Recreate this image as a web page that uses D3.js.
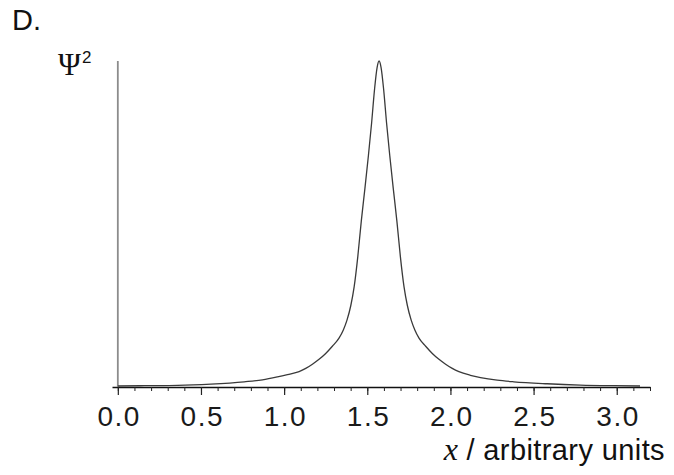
<!DOCTYPE html>
<html>
<head>
<meta charset="utf-8">
<script src="https://cdn.jsdelivr.net/npm/d3@7"></script>
<style>
  body { margin: 0; background: #fff; }
  svg { display: block; }
  .axis text { font-family: "Liberation Sans", Arial, sans-serif; fill: #1a1a1a; }
</style>
</head>
<body>
<div id="chart"></div>
<script>
// values (x in arbitrary units, psi^2 normalised to peak = 1)
var xVals = [0.00, 0.16, 0.36, 0.56, 0.76, 0.87, 0.96, 1.02, 1.09, 1.13, 1.17, 1.21, 1.25, 1.29, 1.33,
             1.356, 1.378, 1.401, 1.421, 1.443, 1.464, 1.486, 1.507, 1.526, 1.544, 1.559, 1.571,
             1.583, 1.598, 1.616, 1.635, 1.656, 1.678, 1.699, 1.721, 1.741, 1.764, 1.786, 1.811,
             1.851, 1.891, 1.931, 1.971, 2.011, 2.051, 2.12, 2.181, 2.281, 2.381, 2.581, 2.781,
             2.98, 3.14];
var psi2 = [0.003, 0.004, 0.005, 0.009, 0.016, 0.022, 0.031, 0.038, 0.047, 0.057, 0.07, 0.085, 0.103, 0.125, 0.15,
            0.175, 0.205, 0.25, 0.307, 0.40, 0.509, 0.61, 0.711, 0.81, 0.915, 0.98, 1.0,
            0.98, 0.915, 0.81, 0.711, 0.61, 0.509, 0.40, 0.307, 0.25, 0.205, 0.175, 0.15,
            0.125, 0.103, 0.085, 0.07, 0.057, 0.047, 0.036, 0.029, 0.021, 0.016, 0.01, 0.006,
            0.004, 0.003];
var majorTicks = [0.0, 0.5, 1.0, 1.5, 2.0, 2.5, 3.0];
var minorTicks = d3.range(0, 33).map(function (i) { return i / 10; });

var data = xVals.map(function (d, i) { return {x: d, y: psi2[i]}; });

var svg = d3.select("#chart").append("svg").attr("width", 674).attr("height", 475);

var x = d3.scaleLinear().domain([-0.035, 3.2]).range([112, 650]);
var y = d3.scaleLinear().domain([0, 1]).range([387, 61]);

// minor ticks + axis line
var minorAxis = svg.append("g")
        .attr("class", "axis")
        .attr("transform", "translate(0,387)")
        .call(d3.axisBottom(x).tickValues(minorTicks).tickSize(4).tickSizeOuter(0).tickFormat(""));
minorAxis.select(".domain").attr("stroke", "#111").attr("stroke-width", 1.5);
minorAxis.selectAll(".tick line").attr("stroke", "#222").attr("stroke-width", 1);

// major ticks with labels
var majorAxis = svg.append("g")
        .attr("class", "axis")
        .attr("transform", "translate(0,387)")
        .call(d3.axisBottom(x).tickValues(majorTicks).tickSize(8).tickFormat(d3.format(".1f")));
majorAxis.select(".domain").remove();
majorAxis.selectAll(".tick line").attr("stroke", "#222").attr("stroke-width", 1.2);
majorAxis.selectAll(".tick text")
        .attr("y", 39).attr("dy", 0).attr("dx", 0.8)
        .style("font-size", "28px")
        .style("letter-spacing", "1.5px");

// y axis line (no ticks)
svg.append("line")
        .attr("x1", x(0)).attr("x2", x(0))
        .attr("y1", y(1)).attr("y2", y(0))
        .attr("stroke", "#8c8c8c").attr("stroke-width", 1.8);

var line = d3.line()
        .x(function (d) { return x(d.x); })
        .y(function (d) { return y(d.y); })
        .curve(d3.curveMonotoneX);

svg.append("path")
        .datum(data)
        .attr("fill", "none")
        .attr("stroke", "#3a3a3a")
        .attr("stroke-width", 1.3)
        .attr("d", line);

// panel letter
svg.append("text")
        .attr("x", 12).attr("y", 30)
        .style("font-family", "Liberation Sans, Arial, sans-serif")
        .style("font-size", "29px")
        .attr("fill", "#111")
        .text("D.");

// y label: Psi^2
var yl = svg.append("text")
        .attr("x", 58).attr("y", 75)
        .attr("fill", "#111");
yl.append("tspan")
        .style("font-family", "Liberation Serif, Times New Roman, serif")
        .style("font-size", "31px")
        .text("\u03A8");
yl.append("tspan")
        .attr("dy", -12).attr("dx", 1)
        .style("font-family", "Liberation Sans, Arial, sans-serif")
        .style("font-size", "17px")
        .text("2");

// x label
var xl = svg.append("text")
        .attr("x", 665).attr("y", 460)
        .attr("text-anchor", "end")
        .attr("fill", "#111");
xl.append("tspan")
        .style("font-family", "Liberation Serif, Times New Roman, serif")
        .style("font-style", "italic")
        .style("font-size", "32px")
        .text("x");
xl.append("tspan")
        .style("font-family", "Liberation Sans, Arial, sans-serif")
        .style("font-size", "29px")
        .style("letter-spacing", "0.4px")
        .text(" / arbitrary units");
</script>
</body>
</html>
